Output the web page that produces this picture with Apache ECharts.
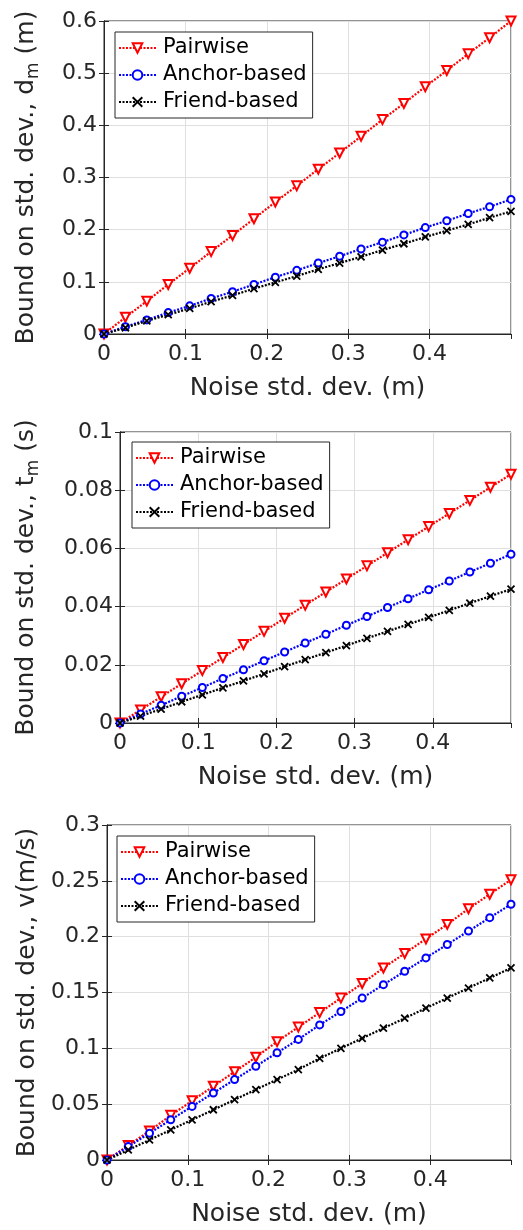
<!DOCTYPE html>
<html>
<head>
<meta charset="utf-8">
<script src="https://cdn.jsdelivr.net/npm/echarts@6/dist/echarts.min.js"></script>
<style>
  html, body { margin: 0; padding: 0; background: #fff; }
  #main { width: 523px; height: 1230px; }
</style>
</head>
<body>
<div id="main"></div>
<script>
var myChart = echarts.init(document.getElementById('main'));

// noise std. dev. (m) - 20 points
var noiseStd = [0, 0.0263, 0.0526, 0.0789, 0.1053, 0.1316, 0.1579, 0.1842, 0.2105, 0.2368,
                0.2632, 0.2895, 0.3158, 0.3421, 0.3684, 0.3947, 0.4211, 0.4474, 0.4737, 0.5];
var seriesNames = ['Pairwise', 'Anchor-based', 'Friend-based'];

// plot 1: bound on d_m (m)
var distPairwise = [0, 0.032, 0.063, 0.095, 0.126, 0.158, 0.189, 0.221, 0.253, 0.284,
                    0.316, 0.347, 0.379, 0.411, 0.442, 0.474, 0.505, 0.537, 0.568, 0.6];
var distAnchor = [0, 0.014, 0.027, 0.041, 0.054, 0.068, 0.081, 0.095, 0.109, 0.122,
                  0.136, 0.149, 0.163, 0.176, 0.190, 0.204, 0.217, 0.231, 0.244, 0.258];
var distFriend = [0, 0.012, 0.025, 0.037, 0.049, 0.062, 0.074, 0.087, 0.099, 0.111,
                  0.124, 0.136, 0.148, 0.161, 0.173, 0.186, 0.198, 0.210, 0.223, 0.235];

// plot 2: bound on t_m (s)
var timePairwise = [0, 0.0045, 0.009, 0.0135, 0.018, 0.0225, 0.027, 0.0315, 0.036, 0.0405,
                    0.045, 0.0495, 0.054, 0.0585, 0.063, 0.0675, 0.072, 0.0765, 0.081, 0.0855];
var timeAnchor = [0, 0.0031, 0.0061, 0.0092, 0.0122, 0.0153, 0.0183, 0.0214, 0.0244, 0.0275,
                  0.0305, 0.0336, 0.0366, 0.0397, 0.0427, 0.0458, 0.0488, 0.0519, 0.0549, 0.058];
var timeFriend = [0, 0.0024, 0.0048, 0.0073, 0.0097, 0.0121, 0.0145, 0.0169, 0.0194, 0.0218,
                  0.0242, 0.0266, 0.0291, 0.0315, 0.0339, 0.0363, 0.0387, 0.0412, 0.0436, 0.046];

// plot 3: bound on v (m/s)
var velPairwise = [0, 0.013, 0.026, 0.040, 0.053, 0.066, 0.079, 0.092, 0.106, 0.119,
                   0.132, 0.145, 0.158, 0.172, 0.185, 0.198, 0.211, 0.225, 0.238, 0.251];
var velAnchor = [0, 0.012, 0.024, 0.036, 0.048, 0.060, 0.072, 0.084, 0.096, 0.108,
                 0.121, 0.133, 0.145, 0.157, 0.169, 0.181, 0.193, 0.205, 0.217, 0.229];
var velFriend = [0, 0.009, 0.018, 0.027, 0.036, 0.045, 0.054, 0.063, 0.072, 0.081,
                 0.091, 0.100, 0.109, 0.118, 0.127, 0.136, 0.145, 0.154, 0.163, 0.172];

var axisColor = '#262626';
var font = 'DejaVu Sans';

// layout of each subplot
var plots = [
    {grid: {left: 104, top: 21, width: 407, height: 313}, yMax: 0.6, yInt: 0.1,
     yName: ['Bound on std. dev., d', 'm', ' (m)'], nameGap: 62,
     legend: {left: 115, top: 32}, values: [distPairwise, distAnchor, distFriend]},
    {grid: {left: 120, top: 432, width: 391, height: 291}, yMax: 0.1, yInt: 0.02,
     yName: ['Bound on std. dev., t', 'm', ' (s)'], nameGap: 78,
     legend: {left: 132, top: 442}, values: [timePairwise, timeAnchor, timeFriend]},
    {grid: {left: 107, top: 825, width: 404, height: 335}, yMax: 0.3, yInt: 0.05,
     yName: ['Bound on std. dev., v(m/s)', '', ''], nameGap: 65,
     legend: {left: 117, top: 836}, values: [velPairwise, velAnchor, velFriend]}
];

var styles = [
    {color: '#ff0000', symbol: 'emptyTriangle', rotate: 180, size: 9},
    {color: '#0000ff', symbol: 'emptyCircle', rotate: 0, size: 7},
    {color: '#000000', symbol: 'path://M0,0L10,10M0,10L10,0', rotate: 0, size: 7}
];

function pairs(ys) {
    return noiseStd.map(function(x, i) { return [x, ys[i]]; });
}

var grids = [], xAxes = [], yAxes = [], series = [], legends = [];

plots.forEach(function(p, k) {
    grids.push(Object.assign({show: true, borderColor: axisColor, borderWidth: 1,
                              backgroundColor: '#fff'}, p.grid));
    // bottom x axis
    xAxes.push({
        type: 'value', gridIndex: k, min: 0, max: 0.5, interval: 0.1,
        name: 'Noise std. dev. (m)', nameLocation: 'middle', nameGap: 42,
        nameTextStyle: {fontSize: 25, color: axisColor, fontFamily: font},
        axisLine: {show: true, lineStyle: {color: axisColor}},
        axisTick: {show: true, inside: true, length: 5, lineStyle: {color: axisColor}},
        axisLabel: {fontSize: 22, color: axisColor, fontFamily: font, margin: 9, showMaxLabel: false},
        splitLine: {show: true, lineStyle: {color: '#dfdfdf'}}
    });
    // top x axis (ticks only)
    xAxes.push({
        type: 'value', gridIndex: k, position: 'top', min: 0, max: 0.5, interval: 0.1,
        axisLine: {show: true, lineStyle: {color: axisColor}},
        axisTick: {show: true, inside: true, length: 5, lineStyle: {color: axisColor}},
        axisLabel: {show: false}, splitLine: {show: false}
    });
    var nm = p.yName;
    yAxes.push({
        type: 'value', gridIndex: k, min: 0, max: p.yMax, interval: p.yInt,
        name: nm[1] ? '{a|' + nm[0] + '}{s|' + nm[1] + '}{a|' + nm[2] + '}' : nm[0],
        nameLocation: 'middle', nameGap: p.nameGap, nameRotate: 90,
        nameTextStyle: {
            fontSize: 25, color: axisColor, fontFamily: font,
            rich: {
                a: {fontSize: 25, color: axisColor, fontFamily: font},
                s: {fontSize: 17, color: axisColor, fontFamily: font, padding: [14, 0, 0, 0]}
            }
        },
        axisLine: {show: true, lineStyle: {color: axisColor}},
        axisTick: {show: true, inside: true, length: 5, lineStyle: {color: axisColor}},
        axisLabel: {fontSize: 22, color: axisColor, fontFamily: font, margin: 7},
        splitLine: {show: true, lineStyle: {color: '#dfdfdf'}}
    });
    yAxes.push({
        type: 'value', gridIndex: k, position: 'right', min: 0, max: p.yMax, interval: p.yInt,
        axisLine: {show: true, lineStyle: {color: axisColor}},
        axisTick: {show: true, inside: true, length: 5, lineStyle: {color: axisColor}},
        axisLabel: {show: false}, splitLine: {show: false}
    });

    seriesNames.forEach(function(name, j) {
        var st = styles[j];
        series.push({
            name: name, type: 'line', xAxisIndex: 2 * k, yAxisIndex: 2 * k,
            data: pairs(p.values[j]),
            symbol: st.symbol, symbolSize: st.size, symbolRotate: st.rotate,
            showAllSymbol: true,
            lineStyle: {color: st.color, width: 2.2, type: [2, 1.5]},
            itemStyle: {color: st.color, borderColor: st.color, borderWidth: 1.8},
            emphasis: {disabled: true}
        });
    });

    legends.push({
        left: p.legend.left, top: p.legend.top, orient: 'vertical',
        data: seriesNames, selectedMode: false,
        itemWidth: 37, itemHeight: 12, itemGap: 5,
        padding: [5, 6, 5, 3],
        backgroundColor: '#fff', borderColor: axisColor, borderWidth: 1, borderRadius: 0,
        textStyle: {fontSize: 21, color: '#000', fontFamily: font, lineHeight: 22, padding: [0, 0, 0, 2]}
    });
});

var option = {
    animation: false,
    backgroundColor: '#fff',
    grid: grids,
    xAxis: xAxes,
    yAxis: yAxes,
    legend: legends,
    series: series
};
myChart.setOption(option);
</script>
</body>
</html>
